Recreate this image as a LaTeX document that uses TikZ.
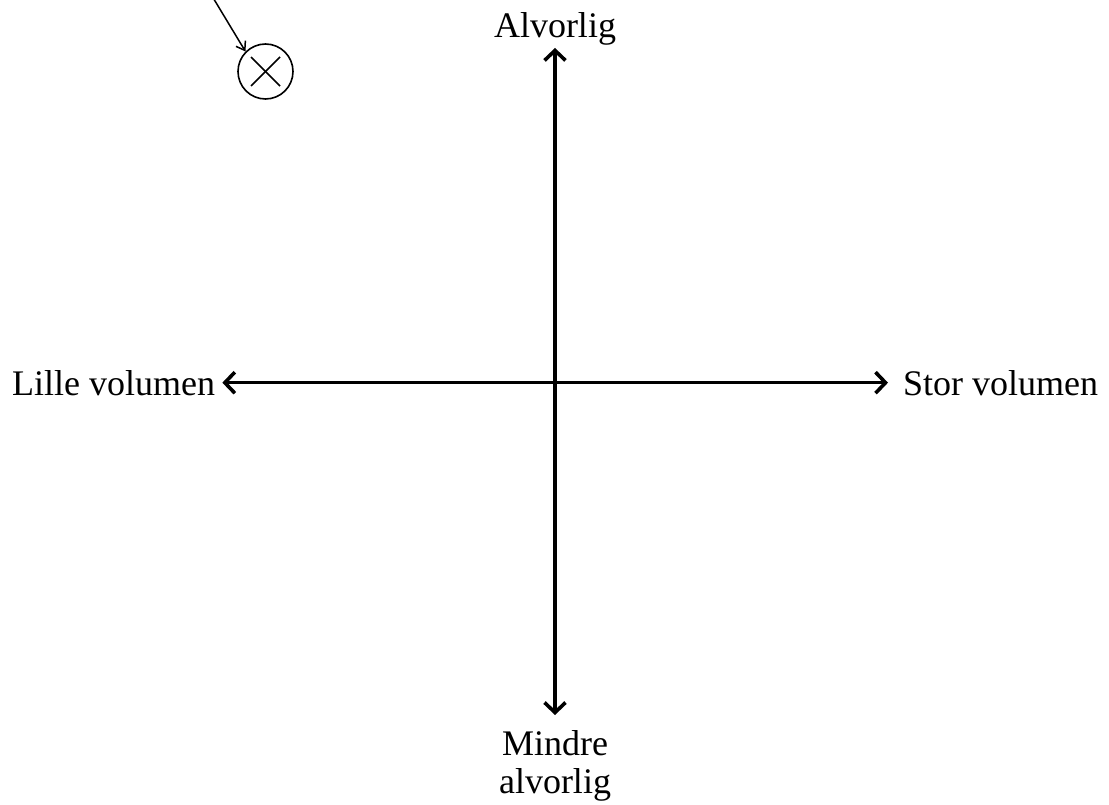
\documentclass[tikz,border=0pt]{standalone}
\usepackage{fontspec}
\setmainfont{Liberation Serif}
\usetikzlibrary{positioning,arrows.meta,calc}

\begin{document}
\begin{tikzpicture}[
  x=1pt, y=-1pt,
  every node/.style = {font=\fontsize{36}{38}\selectfont, inner sep=0pt},
  axis/.style   = {{Straight Barb[length=10pt,width=21pt]}-{Straight Barb[length=10pt,width=21pt]},
                   line width=3.6pt},
  posmark/.style = {circle, draw, line width=1.6pt, minimum size=55pt},
  pointer/.style = {-{Straight Barb[length=8pt,width=11pt]}, line width=1.5pt},
]
\useasboundingbox (0,0) rectangle (1109,805);
\node[anchor=base]            (alv)   at (555,38)  {Alvorlig};
\node[anchor=north, align=center] (mindre) at (555,730) {Mindre\\alvorlig};
\node[anchor=base west]       (lille) at (12,395)  {Lille volumen};
\node[anchor=base west]       (stor)  at (903,395) {Stor volumen};
\node[posmark]                (pos)   at (265.5,71.5) {};
\coordinate (ptr) at (212,-4);
\draw[axis, shorten <=2pt, shorten >=15pt] (alv.south) -- (mindre.north);
\draw[axis, shorten <=7pt, shorten >=15pt] (lille.east) -- (stor.west);
\draw[line width=1.6pt] ($(pos.center)+(-14.5,-14.5)$) -- ($(pos.center)+(14.5,14.5)$);
\draw[line width=1.6pt] ($(pos.center)+(14.5,-14.5)$) -- ($(pos.center)+(-14.5,14.5)$);
\draw[pointer] (ptr) -- (pos.north west);
\end{tikzpicture}
\end{document}
